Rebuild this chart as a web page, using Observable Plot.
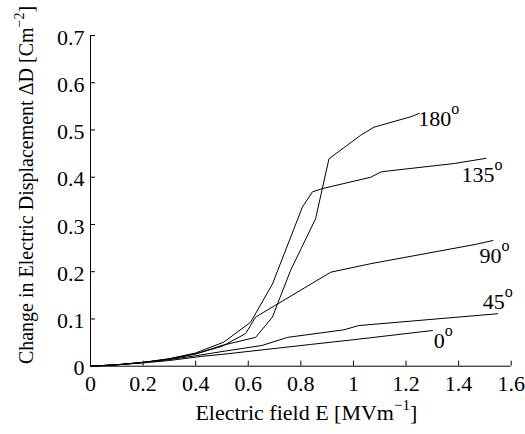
<!DOCTYPE html>
<html>
<head>
<meta charset="utf-8">
<script src="https://cdn.jsdelivr.net/npm/d3@7"></script>
<script src="https://cdn.jsdelivr.net/npm/@observablehq/plot@0.6"></script>
<style>
  html, body { margin: 0; padding: 0; background: #fff; }
  #chart { width: 525px; height: 434px; }
  #chart svg text { font-family: "Liberation Serif", "Times New Roman", serif !important; }
</style>
</head>
<body>
<div id="chart"></div>
<script>
// ---- data ----
const xTicks = [0, 0.2, 0.4, 0.6, 0.8, 1, 1.2, 1.4, 1.6];
const yTicks = [0, 0.1, 0.2, 0.3, 0.4, 0.5, 0.6, 0.7];

const seriesNames = ["0", "45", "90", "135", "180"];

const x0 = [0, 0.1, 0.2, 0.3, 0.419, 0.5, 0.837, 1.0, 1.3];
const y0 = [0, 0.003, 0.007, 0.012, 0.0206, 0.025, 0.046, 0.056, 0.0755];

const x45 = [0, 0.1, 0.2, 0.3, 0.4, 0.5, 0.653, 0.749, 0.964, 1.02, 1.548];
const y45 = [0, 0.003, 0.008, 0.014, 0.022, 0.031, 0.044, 0.061, 0.077, 0.086, 0.111];

const x90 = [0, 0.1, 0.2, 0.3, 0.4, 0.5, 0.59, 0.628, 0.914, 1.066, 1.466, 1.53];
const y90 = [0, 0.003, 0.008, 0.015, 0.026, 0.042, 0.069, 0.104, 0.199, 0.217, 0.258, 0.266];

const x135 = [0, 0.1, 0.2, 0.3, 0.4, 0.507, 0.609, 0.692, 0.806, 0.844, 0.882, 1.066, 1.104, 1.129, 1.383, 1.504];
const y135 = [0, 0.003, 0.008, 0.016, 0.028, 0.051, 0.093, 0.174, 0.337, 0.369, 0.376, 0.40, 0.411, 0.413, 0.429, 0.44];

const x180 = [0, 0.1, 0.2, 0.3, 0.4, 0.5, 0.628, 0.692, 0.761, 0.856, 0.907, 1.028, 1.078, 1.104, 1.218, 1.25];
const y180 = [0, 0.003, 0.008, 0.015, 0.026, 0.044, 0.061, 0.104, 0.203, 0.312, 0.439, 0.489, 0.506, 0.51, 0.528, 0.535];

const xTitle = "Electric field E [MVm";
const xTitleSup = "\u22121";
const yTitle = "Change in Electric Displacement \u0394D [Cm";
const yTitleSup = "\u22122";

// ---- build table ----
const xs = {"0": x0, "45": x45, "90": x90, "135": x135, "180": x180};
const ys = {"0": y0, "45": y45, "90": y90, "135": y135, "180": y180};
const rows = [];
for (const s of seriesNames) xs[s].forEach((x, i) => rows.push({series: s, x, y: ys[s][i]}));
const ends = seriesNames.map(s => ({series: s, x: xs[s][xs[s].length - 1], y: ys[s][ys[s].length - 1]}));

// label offsets (style, px)
const labelOffset = {"180": [-0.8, 5.3], "135": [-24.5, 17], "90": [-13.4, 15], "45": [-14.7, -12], "0": [1.5, 10]};

const W = 525, H = 434;
const mL = 90, mR = 14.3, mT = 35, mB = 68.3;
const plotW = W - mL - mR, plotH = H - mT - mB;
const font = "Liberation Serif";

const chart = Plot.plot({
  width: W, height: H,
  marginLeft: mL, marginRight: mR, marginTop: mT, marginBottom: mB,
  style: {fontFamily: font, fontSize: "22px", color: "black", background: "white"},
  x: {domain: [0, 1.6]},
  y: {domain: [0, 0.7]},
  marks: [
    Plot.axisX({ticks: xTicks, tickFormat: d => String(d), tickSize: 0, tickPadding: 8.7, fontSize: 22, fontVariant: "normal", label: null}),
    Plot.axisY({ticks: yTicks, tickFormat: d => String(d), tickSize: 0, tickPadding: 6, fontSize: 22, fontVariant: "normal", dy: 2, label: null}),
    Plot.tickX(xTicks, {x: d => d, stroke: "black", strokeWidth: 1, insetTop: plotH - 5}),
    Plot.tickY(yTicks, {y: d => d, stroke: "black", strokeWidth: 1, insetRight: plotW - 5}),
    Plot.ruleX([0], {stroke: "black", strokeWidth: 1}),
    Plot.ruleY([0], {stroke: "black", strokeWidth: 1}),
    Plot.line(rows, {x: "x", y: "y", z: "series", stroke: "black", strokeWidth: 1}),
    ...ends.map(e => Plot.text([e], {
      x: "x", y: "y", text: "series", textAnchor: "start",
      dx: labelOffset[e.series][0], dy: labelOffset[e.series][1],
      fontSize: 22, fill: "black"
    }))
  ]
});

document.getElementById("chart").appendChild(chart);

const svg = d3.select(chart);
// superscript "o" on curve labels
svg.selectAll('g[aria-label="text"] text').each(function () {
  d3.select(this).append("tspan").attr("dy", "-12px").attr("font-size", "16px").text("o");
});

// x axis title
const xt = svg.append("text")
  .attr("x", mL + plotW / 2 + 6).attr("y", 420)
  .attr("text-anchor", "middle")
  .attr("font-size", 22).attr("fill", "black");
xt.append("tspan").text(xTitle);
xt.append("tspan").attr("dy", -10).attr("font-size", 15).text(xTitleSup);
xt.append("tspan").attr("dy", 10).text("]");

// y axis title
const yt = svg.append("text")
  .attr("transform", `translate(33,185) rotate(-90)`)
  .attr("text-anchor", "middle")
  .attr("font-size", 20).attr("fill", "black");
yt.append("tspan").text(yTitle);
yt.append("tspan").attr("dy", -9).attr("font-size", 14).text(yTitleSup);
yt.append("tspan").attr("dy", 9).text("]");
</script>
</body>
</html>
